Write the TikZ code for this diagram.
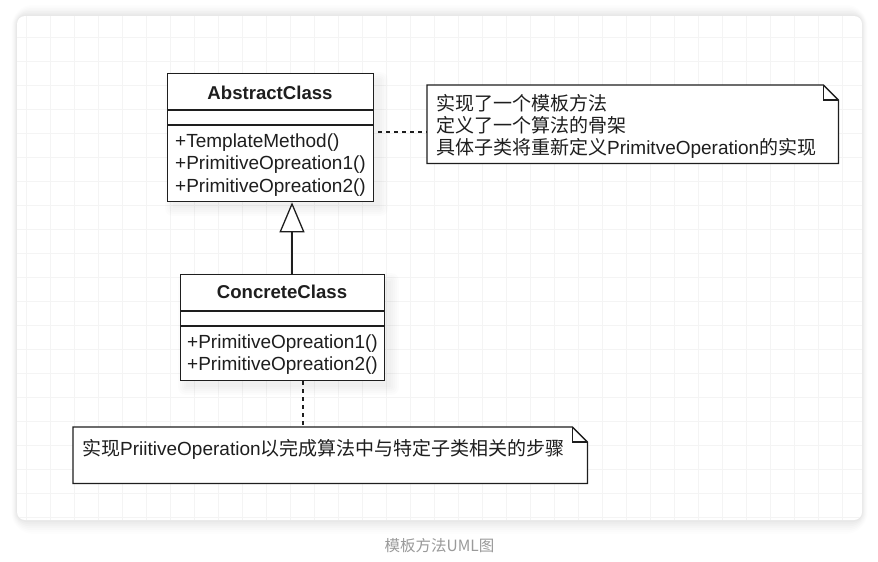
\documentclass[tikz,border=0pt]{standalone}
\usepackage{fontspec}
\setmainfont{Liberation Sans}
\newfontfamily\cjk{Noto Sans CJK SC}
\usetikzlibrary{arrows.meta}
\definecolor{ink}{HTML}{1E1E1E}
\definecolor{gridc}{HTML}{F4F4F4}
\definecolor{capc}{HTML}{9A9A9A}
\begin{document}
\begin{tikzpicture}[x=1pt,y=-1pt,
  umlbox/.style={draw=ink, fill=white, line width=1.3pt, anchor=north west, inner sep=0pt},
  notebox/.style={anchor=north west, inner sep=0pt},
  noteline/.style={draw=ink, line width=1.3pt, line join=miter},
  sepline/.style={draw=ink, line width=1.3pt},
  softshade/.style={fill=black, opacity=0.012},
  txt/.style={inner sep=0pt, anchor=base west, text=ink, font=\fontsize{19}{22}\selectfont},
  ttl/.style={inner sep=0pt, anchor=base, text=ink, font=\bfseries\fontsize{18.6}{22}\selectfont},
  dashcon/.style={draw=ink, line width=1.2pt, dash pattern=on 4pt off 4pt},
  inherit/.style={draw=ink, line width=1.3pt, -{Triangle[open, fill=white, length=30pt, width=25pt, line width=1.3pt]}}
]
\useasboundingbox (0,0) rectangle (878,562);
\fill[white] (0,0) rectangle (878,562);
% card shadow (soft)
\foreach \i/\o in {14/0.006,12/0.008,10/0.010,8/0.012,6/0.014,4/0.016,2/0.018}
  \fill[black, opacity=\o, rounded corners=8pt+\i pt] (17-0.4*\i,16-0.8*\i) rectangle (862+0.4*\i,520+\i);
% card
\fill[white, rounded corners=8pt] (17,16) rectangle (862,520);
\begin{scope}
  \clip[rounded corners=8pt] (17,16) rectangle (862,520);
  \foreach \x in {26,50,...,858} \draw[gridc, line width=0.8pt] (\x,16) -- (\x,520);
  \foreach \y in {37,61,...,517} \draw[gridc, line width=0.8pt] (17,\y) -- (862,\y);
\end{scope}

% box shadows (soft)
\foreach \i in {0,2,4,6,8}
  \fill[softshade, rounded corners=\i pt] (173-\i,80-\i) rectangle (380+\i,208+\i);
\foreach \i in {0,2,4,6,8}
  \fill[softshade, rounded corners=\i pt] (186-\i,281-\i) rectangle (391+\i,387+\i);

% AbstractClass
\node[umlbox, minimum width=206pt, minimum height=128pt] (abs) at (167,73) {};
\draw[sepline] ([yshift=-37pt]abs.north west) -- ([yshift=-37pt]abs.north east);
\draw[sepline] ([yshift=-52pt]abs.north west) -- ([yshift=-52pt]abs.north east);
\node[ttl] (absT) at (270,99) {AbstractClass};
\node[txt] (absM1) at (175,147) {+TemplateMethod()};
\node[txt] (absM2) at (175,169.5) {+PrimitiveOpreation1()};
\node[txt] (absM3) at (175,192) {+PrimitiveOpreation2()};

% ConcreteClass
\node[umlbox, minimum width=204pt, minimum height=106pt] (conc) at (180,274) {};
\draw[sepline] ([yshift=-37pt]conc.north west) -- ([yshift=-37pt]conc.north east);
\draw[sepline] ([yshift=-52pt]conc.north west) -- ([yshift=-52pt]conc.north east);
\node[ttl] (concT) at (282,298) {ConcreteClass};
\node[txt] (concM1) at (187,348) {+PrimitiveOpreation1()};
\node[txt] (concM2) at (187,370) {+PrimitiveOpreation2()};

% Note 1
\node[notebox, minimum width=411pt, minimum height=78pt] (n1) at (427,85) {};
\draw[noteline, fill=white] (n1.north west) -- ([xshift=-15pt]n1.north east) -- ([yshift=-15pt]n1.north east) -- (n1.south east) -- (n1.south west) -- cycle;
\draw[noteline] ([xshift=-15pt]n1.north east) -- ([xshift=-15pt,yshift=-15pt]n1.north east) -- ([yshift=-15pt]n1.north east);
\node[txt] (n1a) at (436,110) {\cjk 实现了一个模板方法};
\node[txt] (n1b) at (436,132) {\cjk 定义了一个算法的骨架};
\node[txt] (n1c) at (436,154) {{\cjk 具体子类将重新定义}PrimitveOperation{\cjk 的实现}};

% Note 2
\node[notebox, minimum width=514pt, minimum height=56pt] (n2) at (73,427) {};
\draw[noteline, fill=white] (n2.north west) -- ([xshift=-15pt]n2.north east) -- ([yshift=-15pt]n2.north east) -- (n2.south east) -- (n2.south west) -- cycle;
\draw[noteline] ([xshift=-15pt]n2.north east) -- ([xshift=-15pt,yshift=-15pt]n2.north east) -- ([yshift=-15pt]n2.north east);
\node[txt] (n2a) at (82,455) {{\cjk 实现}PriitiveOperation{\cjk 以完成算法中与特定子类相关的步骤}};

% connectors
\coordinate (ix) at (292,0);
\draw[inherit] (conc.north -| ix) -- (abs.south -| ix);
\coordinate (c1) at (378,132);
\draw[dashcon] (c1) -- (c1 -| n1.west);
\coordinate (c2) at (303,381);
\draw[dashcon] (c2) -- (c2 |- n2.north);

% caption
\node[inner sep=0pt, anchor=base, text=capc, font=\cjk\fontsize{15.5}{18}\selectfont] (cap) at (439.5,551) {模板方法UML图};
\end{tikzpicture}
\end{document}
